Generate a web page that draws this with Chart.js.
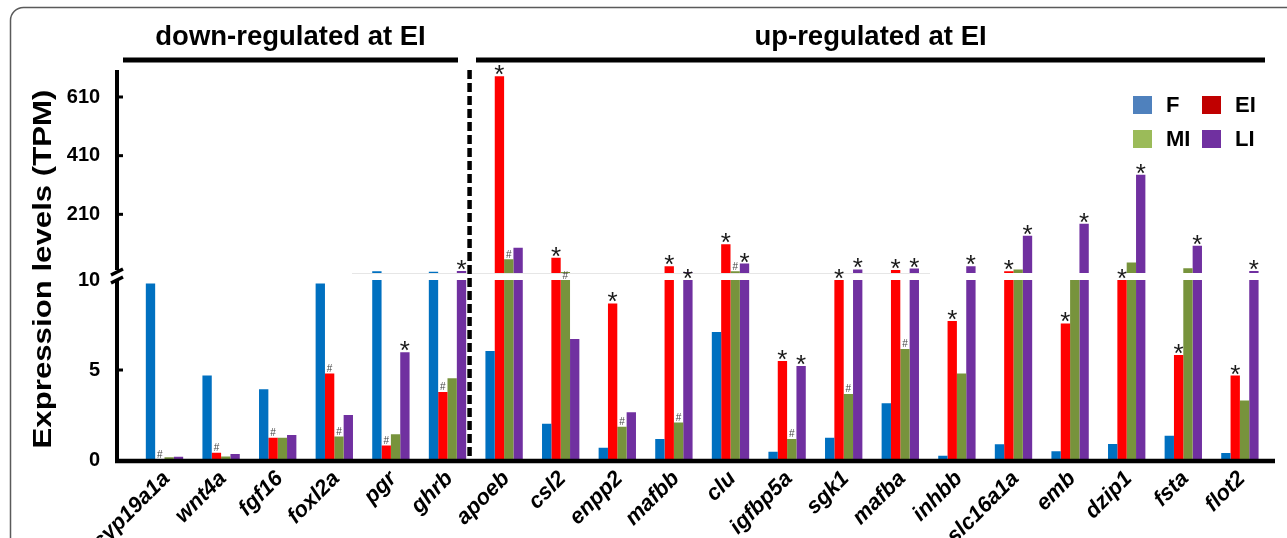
<!DOCTYPE html>
<html>
<head>
<meta charset="utf-8">
<script src="https://cdn.jsdelivr.net/npm/chart.js@4/dist/chart.umd.min.js"></script>
<style>
  html, body { margin: 0; padding: 0; background: #fff; }
  #wrap { width: 1287px; height: 538px; position: relative; overflow: hidden; }
</style>
</head>
<body>
<div id="wrap"><canvas id="c" width="1287" height="538"></canvas></div>
<script>
// ---------------- DATA ----------------
const categories = ['cyp19a1a','wnt4a','fgf16','foxl2a','pgr','ghrb','apoeb','csl2','enpp2','mafbb','clu','igfbp5a','sgk1','mafba','inhbb','slc16a1a','emb','dzip1','fsta','flot2'];
const seriesNames = ['F', 'EI', 'MI', 'LI'];

const valuesF  = [9.8, 4.7, 3.93, 9.8, 16, 14, 6.06, 2.02, 0.68, 1.17, 7.11, 0.46, 1.24, 3.15, 0.24, 0.87, 0.48, 0.89, 1.35, 0.39];
const valuesEI = [0.02, 0.4, 1.24, 4.81, 0.8, 3.78, 681, 62, 8.7, 33, 108, 5.5, 10.1, 20, 7.72, 16, 7.59, 10.2, 5.83, 4.69];
const valuesMI = [0.15, 0.2, 1.24, 1.3, 1.43, 4.54, 57, 13, 1.85, 2.09, 16, 1.17, 3.67, 6.17, 4.81, 22, 10.2, 46, 26, 3.3];
const valuesLI = [0.18, 0.33, 1.39, 2.5, 5.98, 17, 96, 6.72, 2.65, 13, 42, 5.22, 22, 25, 33, 137, 178, 345, 103, 17];

const marksF  = ['','','','','','','','','','','','','','','','','','','',''];
const marksEI = ['#','#','#','#','#','#','*','*','*','*','*','*','*','*','*','*','*','*','*','*'];
const marksMI = ['','','','#','','','#','#','#','#','#','#','#','#','','','','','',''];
const marksLI = ['','','','','*','*','','','','*','*','*','*','*','*','*','*','*','*','*'];

const lowerTicks = [0, 5, 10];
const upperTicks = [210, 410, 610];
const breakValue = 10;
const lowerMax = 10.39;
const upperMax = 702;

const groupTitles = ['down-regulated at EI', 'up-regulated at EI'];
const yTitle = 'Expression levels (TPM)';

// ---------------- STYLE ----------------
const FONT = "'Liberation Sans', Arial, Helvetica, sans-serif";
const barColors = ['#0070c0', '#ff0000', '#77933c', '#7030a0'];
const legendColors = ['#4f81bd', '#c00000', '#9bbb59', '#7030a0'];

const series = [valuesF, valuesEI, valuesMI, valuesLI];
const marks = [marksF, marksEI, marksMI, marksLI];

const datasets = [];
series.forEach((vals, k) => {
  datasets.push({
    label: seriesNames[k],
    data: vals.map(v => Math.min(v, breakValue)),
    yAxisID: 'yLow',
    stack: seriesNames[k],
    backgroundColor: barColors[k],
    borderWidth: 0
  });
});
series.forEach((vals, k) => {
  datasets.push({
    label: seriesNames[k] + ' upper',
    data: vals.map(v => (v > breakValue ? v : null)),
    yAxisID: 'yUp',
    stack: seriesNames[k],
    base: breakValue,
    backgroundColor: barColors[k],
    borderWidth: 0
  });
});

function drawMark(ctx, text, x, top, font, color, gap) {
  ctx.font = font;
  ctx.fillStyle = color;
  ctx.textAlign = 'center';
  ctx.textBaseline = 'alphabetic';
  const m = ctx.measureText(text);
  const desc = m.actualBoundingBoxDescent;
  ctx.fillText(text, x, top - gap - desc);
}

const decorPlugin = {
  id: 'decor',
  beforeDraw(chart) {
    const { ctx, width, height } = chart;
    ctx.save();
    ctx.fillStyle = '#ffffff';
    ctx.fillRect(0, 0, width, height);
    ctx.strokeStyle = '#5a5a5a';
    ctx.lineWidth = 1.5;
    const fx = 10.5, fy = 7.5, fr = 13;
    ctx.beginPath();
    ctx.moveTo(fx, height + 2);
    ctx.lineTo(fx, fy + fr);
    ctx.arcTo(fx, fy, fx + fr, fy, fr);
    ctx.lineTo(width + 2, fy);
    ctx.stroke();
    ctx.restore();
  },
  afterDraw(chart) {
    const { ctx, chartArea: ca } = chart;
    const xs = chart.scales.x, yl = chart.scales.yLow, yu = chart.scales.yUp;
    const step = xs.getPixelForValue(1) - xs.getPixelForValue(0);
    ctx.save();

    // faint baseline of upper panel
    ctx.strokeStyle = '#e6e6e6';
    ctx.lineWidth = 1;
    ctx.beginPath();
    ctx.moveTo(352, yu.bottom + 0.5);
    ctx.lineTo(930, yu.bottom + 0.5);
    ctx.stroke();

    // group titles and lines
    ctx.fillStyle = '#000';
    ctx.font = `bold 27.5px ${FONT}`;
    ctx.textAlign = 'center';
    ctx.textBaseline = 'alphabetic';
    ctx.fillText(groupTitles[0], 290.5, 44.5);
    ctx.fillText(groupTitles[1], 870.5, 44.5);
    ctx.strokeStyle = '#000';
    ctx.lineWidth = 5;
    ctx.lineCap = 'butt';
    ctx.beginPath(); ctx.moveTo(123, 60); ctx.lineTo(458, 60); ctx.stroke();
    ctx.beginPath(); ctx.moveTo(476, 60); ctx.lineTo(1265, 60); ctx.stroke();

    // y axis (broken)
    const ax = 117;
    ctx.lineWidth = 4;
    ctx.beginPath(); ctx.moveTo(ax, ca.top); ctx.lineTo(ax, yu.bottom - 3); ctx.stroke();
    ctx.beginPath(); ctx.moveTo(ax, yl.getPixelForValue(breakValue) - 1); ctx.lineTo(ax, ca.bottom + 2); ctx.stroke();
    ctx.lineWidth = 3.5;
    ctx.beginPath(); ctx.moveTo(ax - 6, yu.bottom + 2); ctx.lineTo(ax + 6, yu.bottom - 4); ctx.stroke();
    ctx.beginPath(); ctx.moveTo(ax - 6, yu.bottom + 10); ctx.lineTo(ax + 6, yu.bottom + 4); ctx.stroke();
    ctx.lineWidth = 3;
    upperTicks.forEach(v => {
      const y = yu.getPixelForValue(v);
      ctx.beginPath(); ctx.moveTo(ax, y); ctx.lineTo(ax + 6, y); ctx.stroke();
    });
    lowerTicks.filter(v => v > 0 && v < breakValue).forEach(v => {
      const y = yl.getPixelForValue(v);
      ctx.beginPath(); ctx.moveTo(ax, y); ctx.lineTo(ax + 6, y); ctx.stroke();
    });

    // x axis line
    ctx.lineWidth = 4.5;
    ctx.beginPath(); ctx.moveTo(ax - 2, ca.bottom + 1); ctx.lineTo(1275, ca.bottom + 1); ctx.stroke();

    // dashed separator between groups
    const sepX = xs.getPixelForValue(5) + 0.39 * step;
    ctx.lineWidth = 4.5;
    ctx.setLineDash([9, 4]);
    ctx.beginPath(); ctx.moveTo(sepX, ca.top); ctx.lineTo(sepX, ca.bottom); ctx.stroke();
    ctx.setLineDash([]);

    // significance marks
    for (let k = 0; k < 4; k++) {
      const low = chart.getDatasetMeta(k).data;
      const up = chart.getDatasetMeta(k + 4).data;
      for (let i = 0; i < categories.length; i++) {
        const m = marks[k][i];
        if (!m) continue;
        let el = low[i];
        const u = up[i];
        if (series[k][i] > breakValue && u && isFinite(u.y) && Math.abs(u.base - u.y) >= 1) el = u;
        if (!el || !isFinite(el.y)) continue;
        if (m === '*') drawMark(ctx, '*', el.x, el.y, `26px ${FONT}`, '#1a1a1a', 1);
        else drawMark(ctx, '#', el.x, el.y, `10px ${FONT}`, '#444', 1.5);
      }
    }

    // legend (2 x 2)
    const legendPos = [[1133, 96], [1202, 96], [1133, 130], [1202, 130]];
    ctx.font = `bold 22px ${FONT}`;
    ctx.textAlign = 'left';
    ctx.textBaseline = 'middle';
    seriesNames.forEach((name, k) => {
      const [lx, ly] = legendPos[k];
      ctx.fillStyle = legendColors[k];
      ctx.fillRect(lx, ly, 19, 18);
      ctx.fillStyle = '#000';
      ctx.fillText(name, lx + 33, ly + 10);
    });

    // y axis title
    ctx.save();
    ctx.translate(51, 269);
    ctx.rotate(-Math.PI / 2);
    ctx.scale(1.2, 1);
    ctx.font = `bold 26px ${FONT}`;
    ctx.fillStyle = '#000';
    ctx.textAlign = 'center';
    ctx.textBaseline = 'alphabetic';
    ctx.fillText(yTitle, 0, 0);
    ctx.restore();

    ctx.restore();
  }
};

const tickFont = { family: FONT, size: 20, weight: 'bold' };

new Chart(document.getElementById('c'), {
  type: 'bar',
  data: { labels: categories, datasets },
  options: {
    responsive: false,
    animation: false,
    devicePixelRatio: 1,
    layout: { padding: { left: 36.2, right: 18.8, top: 70, bottom: 0 } },
    plugins: { legend: { display: false }, tooltip: { enabled: false }, title: { display: false } },
    datasets: { bar: { categoryPercentage: 0.66, barPercentage: 1.0 } },
    scales: {
      x: {
        type: 'category',
        offset: true,
        grid: { display: false, drawTicks: false },
        border: { display: false },
        ticks: {
          autoSkip: false, minRotation: 45, maxRotation: 45, padding: 6, labelOffset: 2, color: '#000',
          font: { family: FONT, size: 22, weight: 'bold', style: 'italic' }
        },
        afterFit: s => { s.height = 78; }
      },
      yLow: {
        type: 'linear', position: 'left', stack: 'v', stackWeight: 187, weight: 0,
        min: 0, max: lowerMax, stacked: false,
        grid: { display: false, drawTicks: false },
        border: { display: false },
        ticks: { padding: 36, color: '#000', font: tickFont },
        afterBuildTicks: s => { s.ticks = lowerTicks.map(v => ({ value: v })); },
        afterFit: s => { s.width = 100; }
      },
      yUp: {
        type: 'linear', position: 'left', stack: 'v', stackWeight: 203, weight: 1,
        min: breakValue, max: upperMax, stacked: false,
        grid: { display: false, drawTicks: false },
        border: { display: false },
        ticks: { padding: 36, color: '#000', font: tickFont },
        afterBuildTicks: s => { s.ticks = upperTicks.map(v => ({ value: v })); },
        afterFit: s => { s.width = 100; }
      }
    }
  },
  plugins: [decorPlugin]
});
</script>
</body>
</html>
